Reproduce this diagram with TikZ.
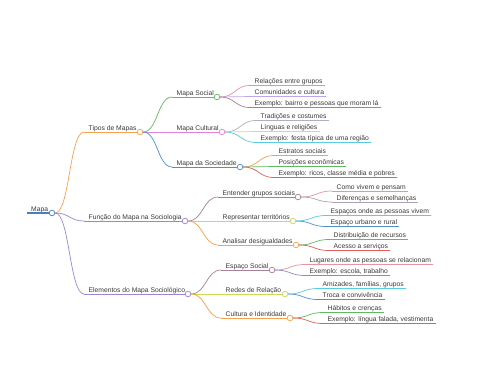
\documentclass[tikz,border=0pt]{standalone}
\usepackage{fontspec}
\setmainfont{Liberation Sans}
\usetikzlibrary{calc}
\definecolor{txtc}{HTML}{3A3A3A}
\definecolor{cRoot}{HTML}{4A7FBF}
\definecolor{cOrange}{HTML}{F5A24E}
\definecolor{cPurple}{HTML}{9C86D4}
\definecolor{cGreen}{HTML}{62BA62}
\definecolor{cPink}{HTML}{E282DA}
\definecolor{cBlue}{HTML}{5090CC}
\definecolor{cRose}{HTML}{E8949F}
\definecolor{cLav}{HTML}{BCA8E4}
\definecolor{cMauve}{HTML}{A88098}
\definecolor{cGray}{HTML}{B0B0BC}
\definecolor{cYellow}{HTML}{E4D67A}
\definecolor{cCyan}{HTML}{5ACCE2}
\definecolor{cGreen2}{HTML}{60B860}
\definecolor{cRed}{HTML}{E45C5C}
\definecolor{cLime}{HTML}{CADA58}
\definecolor{cGrayM}{HTML}{AEA2B6}
\definecolor{cIndigo}{HTML}{8A8ACA}
\tikzset{
  txt/.style={font=\fontsize{6.75}{8}\selectfont, text=txtc, inner sep=0pt, anchor=base west},
  dot/.style={circle, fill=white, inner sep=0pt, minimum size=5.6pt, line width=0.75pt},
  link/.style={line width=0.7pt},
  curve/.style={to path={let \p1=(\tikztostart), \p2=(\tikztotarget), \n1={(\x2-\x1)*0.5} in .. controls (\x1+\n1,\y1) and (\x2-\n1,\y2) .. (\tikztotarget)}}
}
% branch node with circle: name, parent anchor, start x, y, circle x, color, text
\newcommand\brnode[7]{%
  \coordinate (#1s) at (#3,#4);
  \node[txt] (#1) at (#3+4.5,#4-1.8) {#7};
  \node[dot,draw=#6] (#1c) at (#5,#4) {};
  \draw[link,#6] (#2) to[curve] (#1s);
  \draw[link,#6] (#1s) -- (#1c.west);
}
% leaf: name, parent anchor, start x, y, color, text
\newcommand\lfnode[6]{%
  \coordinate (#1s) at (#3,#4);
  \node[txt] (#1) at (#3+4.5,#4-1.8) {#6};
  \coordinate (#1e) at ($(#1s -| #1.east)+(2,0)$);
  \draw[link,#5] (#2) to[curve] (#1s);
  \draw[link,#5] (#1s) -- (#1e);
}
\begin{document}
\begin{tikzpicture}[x=1pt,y=-1pt]
\useasboundingbox[fill=white] (0,0) rectangle (480,384);
% root
\coordinate (rootS) at (27,213);
\node[txt] (mapa) at (31,211.2) {Mapa};
\node[dot,draw=cRoot] (mapac) at (52,213) {};
\draw[cRoot,line width=1.3pt] (rootS) -- (mapac.west);
% level 1
\brnode{tipos}{mapac.east}{84}{132}{140}{cOrange}{Tipos de Mapas}
\brnode{funcao}{mapac.east}{84}{221}{185}{cPurple}{Função do Mapa na Sociologia}
\brnode{elem}{mapac.east}{84}{294}{188}{cPurple}{Elementos do Mapa Sociológico}
% level 2 - Tipos
\brnode{msocial}{tiposc.east}{172}{97}{217}{cGreen}{Mapa Social}
\brnode{mcult}{tiposc.east}{172}{132}{222}{cPink}{Mapa Cultural}
\brnode{msoc}{tiposc.east}{172}{167}{240}{cBlue}{Mapa da Sociedade}
% level 2 - Funcao
\brnode{entender}{funcaoc.east}{218}{197}{298}{cMauve}{Entender grupos sociais}
\brnode{repr}{funcaoc.east}{218}{221}{293}{cLime}{Representar territórios}
\brnode{anal}{funcaoc.east}{218}{245}{296}{cOrange}{Analisar desigualdades}
% level 2 - Elementos
\brnode{espaco}{elemc.east}{221}{270}{272}{cMauve}{Espaço Social}
\brnode{redes}{elemc.east}{221}{294}{285}{cLime}{Redes de Relação}
\brnode{cultura}{elemc.east}{221}{318}{290}{cOrange}{Cultura e Identidade}
% leaves - Mapa Social
\lfnode{l1}{msocialc.east}{250}{85.5}{cRose}{Relações entre grupos}
\lfnode{l2}{msocialc.east}{250}{96.5}{cLav}{Comunidades e cultura}
\lfnode{l3}{msocialc.east}{250}{107.5}{cMauve}{Exemplo: bairro e pessoas que moram lá}
% leaves - Mapa Cultural
\lfnode{l4}{mcultc.east}{256}{120.5}{cGray}{Tradições e costumes}
\lfnode{l5}{mcultc.east}{256}{131.5}{cYellow}{Línguas e religiões}
\lfnode{l6}{mcultc.east}{256}{142.5}{cCyan}{Exemplo: festa típica de uma região}
% leaves - Mapa da Sociedade
\lfnode{l7}{msocc.east}{274}{155.5}{cOrange}{Estratos sociais}
\lfnode{l8}{msocc.east}{274}{166.5}{cGreen2}{Posições econômicas}
\lfnode{l9}{msocc.east}{274}{177.5}{cRed}{Exemplo: ricos, classe média e pobres}
% leaves - Entender
\lfnode{l10}{entenderc.east}{332}{191}{cRose}{Como vivem e pensam}
\lfnode{l11}{entenderc.east}{332}{202}{cGrayM}{Diferenças e semelhanças}
% leaves - Representar
\lfnode{l12}{reprc.east}{326}{215.5}{cCyan}{Espaços onde as pessoas vivem}
\lfnode{l13}{reprc.east}{326}{226.5}{cBlue}{Espaço urbano e rural}
% leaves - Analisar
\lfnode{l14}{analc.east}{329}{239.5}{cGreen2}{Distribuição de recursos}
\lfnode{l15}{analc.east}{329}{250.5}{cRed}{Acesso a serviços}
% leaves - Espaco Social
\lfnode{l16}{espacoc.east}{305}{264.5}{cRose}{Lugares onde as pessoas se relacionam}
\lfnode{l17}{espacoc.east}{305}{275.5}{cIndigo}{Exemplo: escola, trabalho}
% leaves - Redes
\lfnode{l18}{redesc.east}{318}{288.5}{cCyan}{Amizades, famílias, grupos}
\lfnode{l19}{redesc.east}{318}{299.5}{cBlue}{Troca e convivência}
% leaves - Cultura
\lfnode{l20}{culturac.east}{323}{312.5}{cGreen2}{Hábitos e crenças}
\lfnode{l21}{culturac.east}{323}{323.5}{cRed}{Exemplo: língua falada, vestimenta}
\end{tikzpicture}
\end{document}
